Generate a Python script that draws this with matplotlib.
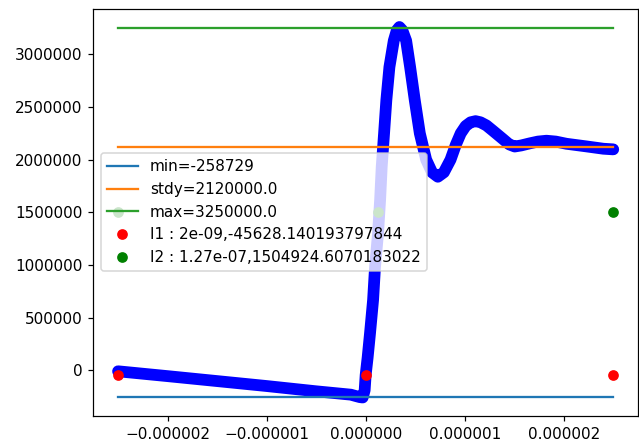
import matplotlib
matplotlib.use("Agg")
import matplotlib.pyplot as plt
import numpy as np

# curve (x in microseconds, y in millions)
t_us = [-2.50, -2.00, -1.50, -1.00, -0.50, -0.15, -0.10, -0.06, -0.03, -0.01,
        0.00, 0.02, 0.044, 0.075, 0.095, 0.125, 0.146, 0.162, 0.186, 0.209,
        0.24, 0.284, 0.315, 0.341, 0.37, 0.409, 0.449, 0.496, 0.547, 0.611,
        0.67, 0.729, 0.79, 0.857, 0.91, 0.96, 1.01, 1.06, 1.11, 1.16,
        1.22, 1.285, 1.386, 1.45, 1.505, 1.57, 1.657, 1.74, 1.826, 1.92,
        2.028, 2.23, 2.40, 2.50]
y_mega = [-0.010, -0.056, -0.103, -0.150, -0.200, -0.232, -0.245, -0.255, -0.2587, -0.19,
          -0.046, 0.12, 0.35, 0.667, 0.984, 1.30, 1.617, 1.93, 2.25, 2.565,
          2.88, 3.13, 3.23, 3.26, 3.23, 3.13, 2.88, 2.565, 2.25, 2.00,
          1.88, 1.838, 1.88, 2.00, 2.14, 2.25, 2.32, 2.355, 2.366, 2.355,
          2.325, 2.275, 2.196, 2.145, 2.125, 2.135, 2.155, 2.172, 2.18, 2.172,
          2.151, 2.126, 2.104, 2.098]

x_ends = [-2.5e-6, 2.5e-6]
y_min = -258729
y_stdy = 2120000.0
y_max = 3250000.0

i1 = (2e-09, -45628.140193797844)
i2 = (1.27e-07, 1504924.6070183022)

x = np.array(t_us) * 1e-6
y = np.array(y_mega) * 1e6

fig = plt.figure(figsize=(639 / 110, 443 / 110), dpi=110)
ax = fig.add_axes([93.3 / 639, 27 / 443, 544.7 / 639, 407.5 / 443])

ax.plot(x, y, color="blue", linewidth=7.7, solid_capstyle="round", solid_joinstyle="round")
ax.plot(x_ends, [y_min, y_min], label=f"min={y_min}")
ax.plot(x_ends, [y_stdy, y_stdy], label=f"stdy={y_stdy}")
ax.plot(x_ends, [y_max, y_max], label=f"max={y_max}")
ax.plot([x_ends[0], i1[0], x_ends[1]], [i1[1]] * 3, "ro", label=f"I1 : {i1[0]},{i1[1]}")
ax.plot([x_ends[0], i2[0], x_ends[1]], [i2[1]] * 3, "go", label=f"I2 : {i2[0]},{i2[1]}")

ax.set_xticks([-2e-6, -1e-6, 0, 1e-6, 2e-6])
ax.ticklabel_format(style="plain", useOffset=False)
ax.legend(loc="center left")

fig.savefig("out.png", dpi=110)
